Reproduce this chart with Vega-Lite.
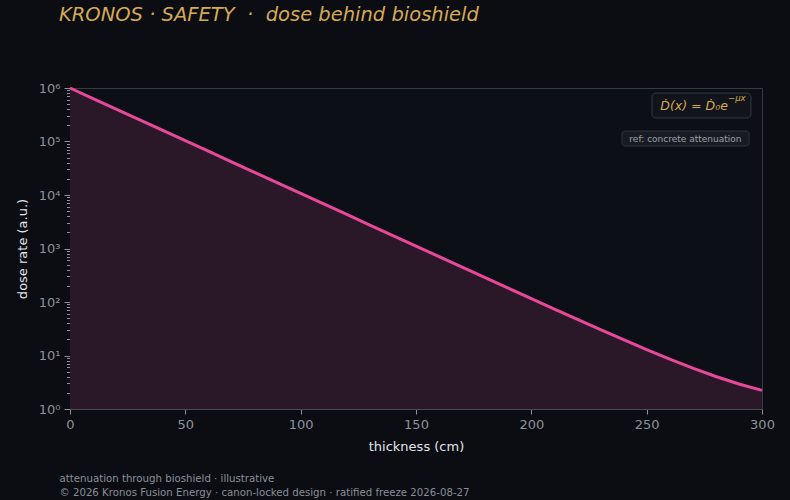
{
  "$schema": "https://vega.github.io/schema/vega-lite/v6.json",
  "width": 692,
  "height": 321,
  "autosize": {"type": "none"},
  "padding": {"left": 70, "top": 88, "right": 28, "bottom": 91},
  "background": "#0b0d12",
  "title": {
    "text": "KRONOS · SAFETY \u00a0·\u00a0 dose behind bioshield",
    "anchor": "start",
    "frame": "group",
    "dx": -11,
    "offset": 42,
    "baseline": "alphabetic",
    "font": "DejaVu Sans",
    "fontSize": 19.5,
    "fontStyle": "italic",
    "fontWeight": "normal",
    "color": "#d6aa55"
  },
  "config": {
    "view": {"stroke": "#363a43", "fill": "#0c0f15"},
    "axis": {
      "grid": false,
      "labelFont": "DejaVu Sans",
      "labelFontSize": 13,
      "labelColor": "#8d929c",
      "titleFont": "DejaVu Sans",
      "titleFontSize": 13,
      "titleFontWeight": "normal",
      "titleColor": "#e2e5ea",
      "domainColor": "#454a55",
      "tickColor": "#8d929c"
    }
  },
  "data": {
    "values": [
      {"thickness": 0, "dose": 1000000},
      {"thickness": 10, "dose": 635300},
      {"thickness": 20, "dose": 403650},
      {"thickness": 30, "dose": 256450},
      {"thickness": 40, "dose": 162930},
      {"thickness": 50, "dose": 103520},
      {"thickness": 60, "dose": 65766},
      {"thickness": 70, "dose": 41783},
      {"thickness": 80, "dose": 26546},
      {"thickness": 90, "dose": 16866},
      {"thickness": 100, "dose": 10715},
      {"thickness": 110, "dose": 6808},
      {"thickness": 120, "dose": 4325},
      {"thickness": 130, "dose": 2748},
      {"thickness": 140, "dose": 1746},
      {"thickness": 150, "dose": 1110},
      {"thickness": 160, "dose": 705.7},
      {"thickness": 170, "dose": 448.7},
      {"thickness": 180, "dose": 285.4},
      {"thickness": 190, "dose": 181.7},
      {"thickness": 200, "dose": 115.8},
      {"thickness": 210, "dose": 73.9},
      {"thickness": 220, "dose": 47.3},
      {"thickness": 230, "dose": 30.4},
      {"thickness": 240, "dose": 19.7},
      {"thickness": 250, "dose": 12.9},
      {"thickness": 260, "dose": 8.55},
      {"thickness": 270, "dose": 5.8},
      {"thickness": 280, "dose": 4.05},
      {"thickness": 290, "dose": 2.94},
      {"thickness": 300, "dose": 2.23}
    ]
  },
  "resolve": {"axis": {"x": "independent", "y": "independent"}},
  "layer": [
    {
      "mark": {"type": "area", "color": "#2a1828", "opacity": 1},
      "encoding": {
        "x": {
          "field": "thickness",
          "type": "quantitative",
          "scale": {"domain": [0, 300], "nice": false, "zero": false},
          "axis": {
            "orient": "bottom",
            "title": "thickness (cm)",
            "values": [0, 50, 100, 150, 200, 250, 300],
            "labelFlush": false,
            "tickSize": 5,
            "labelPadding": 4,
            "titlePadding": 9
          }
        },
        "y": {
          "field": "dose",
          "type": "quantitative",
          "scale": {"type": "log", "domain": [1, 1000000], "nice": false},
          "axis": {
            "orient": "left",
            "title": "dose rate (a.u.)",
            "values": [1, 10, 100, 1000, 10000, 100000, 1000000],
            "labelExpr": "datum.value == 1 ? '10⁰' : datum.value == 10 ? '10¹' : datum.value == 100 ? '10²' : datum.value == 1000 ? '10³' : datum.value == 10000 ? '10⁴' : datum.value == 100000 ? '10⁵' : '10⁶'",
            "labelOverlap": false,
            "labelPadding": 4,
            "tickSize": 6,
            "titlePadding": 9
          }
        },
        "y2": {"datum": 1}
      }
    },
    {
      "mark": {"type": "line", "color": "#e8489a", "strokeWidth": 3},
      "encoding": {
        "x": {
          "field": "thickness",
          "type": "quantitative",
          "axis": {
            "orient": "bottom",
            "title": ["attenuation through bioshield · illustrative", "© 2026 Kronos Fusion Energy · canon-locked design · ratified freeze 2026-08-27"],
            "domain": false,
            "ticks": false,
            "labels": false,
            "titleFont": "DejaVu Sans",
            "titleFontSize": 10.2,
            "titleColor": "#8a8f99",
            "titleAlign": "left",
            "titleAnchor": "start",
            "titleBaseline": "alphabetic",
            "titleLineHeight": 14,
            "titleX": -11,
            "titleY": 72
          }
        },
        "y": {
          "field": "dose",
          "type": "quantitative",
          "axis": {
            "orient": "left",
            "title": null,
            "values": [2, 3, 4, 5, 6, 7, 8, 9, 20, 30, 40, 50, 60, 70, 80, 90, 200, 300, 400, 500, 600, 700, 800, 900, 2000, 3000, 4000, 5000, 6000, 7000, 8000, 9000, 20000, 30000, 40000, 50000, 60000, 70000, 80000, 90000, 200000, 300000, 400000, 500000, 600000, 700000, 800000, 900000],
            "labels": false,
            "domain": false,
            "tickSize": 3.5
          }
        }
      }
    },
    {
      "data": {"values": [{}]},
      "mark": {"type": "rect", "fill": "#11141a", "stroke": "#353a44", "strokeWidth": 1, "cornerRadius": 4},
      "encoding": {
        "x": {"datum": 252.3, "axis": null},
        "x2": {"datum": 295.2},
        "y": {"datum": 275000, "axis": null},
        "y2": {"datum": 807000}
      }
    },
    {
      "data": {"values": [{}]},
      "mark": {"type": "text", "text": "Ḋ(x) = Ḋ₀e", "align": "right", "baseline": "alphabetic", "font": "DejaVu Sans", "fontStyle": "italic", "fontSize": 12.5, "color": "#d6aa55"},
      "encoding": {
        "x": {"datum": 285.2, "axis": null},
        "y": {"datum": 388000, "axis": null}
      }
    },
    {
      "data": {"values": [{}]},
      "mark": {"type": "text", "text": "−μx", "align": "left", "baseline": "alphabetic", "font": "DejaVu Sans", "fontStyle": "italic", "fontSize": 8.5, "color": "#d6aa55"},
      "encoding": {
        "x": {"datum": 285.3, "axis": null},
        "y": {"datum": 560000, "axis": null}
      }
    },
    {
      "data": {"values": [{}]},
      "mark": {"type": "rect", "fill": "#181b22", "stroke": "#30343d", "strokeWidth": 1, "cornerRadius": 3},
      "encoding": {
        "x": {"datum": 239.3, "axis": null},
        "x2": {"datum": 294.4},
        "y": {"datum": 82400, "axis": null},
        "y2": {"datum": 157000}
      }
    },
    {
      "data": {"values": [{}]},
      "mark": {"type": "text", "text": "ref: concrete attenuation", "align": "center", "baseline": "middle", "font": "DejaVu Sans", "fontSize": 9, "color": "#9ca1ab"},
      "encoding": {
        "x": {"datum": 266.8, "axis": null},
        "y": {"datum": 113700, "axis": null}
      }
    }
  ]
}
